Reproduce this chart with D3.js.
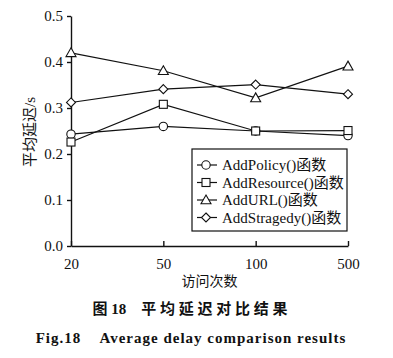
<!DOCTYPE html>
<html>
<head>
<meta charset="utf-8">
<script src="https://cdn.jsdelivr.net/npm/d3@7"></script>
<style>
  html, body { margin: 0; padding: 0; background: #fff; }
  #chart { width: 393px; height: 358px; }
  text { fill: #111; }
</style>
</head>
<body>
<div id="chart"></div>
<script>
const WIDTH = 393, HEIGHT = 358;
const MARGIN = { left: 71, top: 16, right: 45, bottom: 112 };
const INNER_WIDTH = WIDTH - MARGIN.left - MARGIN.right;
const INNER_HEIGHT = HEIGHT - MARGIN.top - MARGIN.bottom;

const SERIF = "'Liberation Serif', 'Times New Roman', 'Noto Sans CJK SC', serif";

// data
const categories = ["20", "50", "100", "500"];
const yTicks = [0.0, 0.1, 0.2, 0.3, 0.4, 0.5];
const addPolicy = [0.243, 0.26, 0.25, 0.24];
const addResource = [0.226, 0.308, 0.25, 0.251];
const addURL = [0.42, 0.381, 0.322, 0.391];
const addStragedy = [0.312, 0.341, 0.351, 0.33];
const seriesNames = ["AddPolicy()函数", "AddResource()函数", "AddURL()函数", "AddStragedy()函数"];
const seriesShapes = ["circle", "square", "triangle", "diamond"];

const series = [addPolicy, addResource, addURL, addStragedy].map((vals, i) => ({
    name: seriesNames[i],
    shape: seriesShapes[i],
    values: vals.map((v, j) => ({ cat: categories[j], v }))
}));

const svg = d3.select("#chart")
    .append("svg")
    .attr("width", WIDTH)
    .attr("height", HEIGHT)
    .style("background", "#fff");

const g = svg.append("g")
    .attr("transform", `translate(${MARGIN.left},${MARGIN.top})`);

const x = d3.scalePoint().domain(categories).range([0, INNER_WIDTH]);
const y = d3.scaleLinear().domain([0, 0.5]).range([INNER_HEIGHT, 0]);

// axes
const xAxis = g.append("g")
    .attr("transform", `translate(0,${INNER_HEIGHT})`)
    .call(d3.axisBottom(x).tickSizeInner(-5).tickSizeOuter(0).tickPadding(12));
const yAxis = g.append("g")
    .call(d3.axisLeft(y).tickValues(yTicks).tickFormat(d3.format(".1f")).tickSizeInner(4).tickSizeOuter(0).tickPadding(4));

[xAxis, yAxis].forEach(a => {
    a.select(".domain").attr("stroke", "#111").attr("stroke-width", 1.4);
    a.selectAll(".tick line").attr("stroke", "#111").attr("stroke-width", 1.4);
    a.selectAll("text").attr("font-family", SERIF).attr("font-size", 15).attr("fill", "#222");
});

// symbols
function drawMarker(sel, shape) {
    if (shape === "circle") {
        sel.append("circle").attr("r", 4.2);
    } else if (shape === "square") {
        sel.append("rect").attr("x", -4).attr("y", -4).attr("width", 8).attr("height", 8);
    } else if (shape === "triangle") {
        sel.append("path").attr("d", "M0,-5 L5,3.8 L-5,3.8 Z");
    } else {
        sel.append("path").attr("d", "M0,-4.5 L4.5,0 L0,4.5 L-4.5,0 Z");
    }
    sel.selectAll("*").attr("fill", "#fff").attr("stroke", "#111").attr("stroke-width", 1.1);
}

const line = d3.line().x(d => x(d.cat)).y(d => y(d.v));

series.forEach(s => {
    g.append("path")
        .datum(s.values)
        .attr("fill", "none")
        .attr("stroke", "#111")
        .attr("stroke-width", 1.2)
        .attr("d", line);
});

series.forEach(s => {
    g.selectAll(null)
        .data(s.values)
        .join("g")
        .attr("transform", d => `translate(${x(d.cat)},${y(d.v)})`)
        .each(function () { drawMarker(d3.select(this), s.shape); });
});

// legend
const legend = svg.append("g").attr("transform", "translate(192,149)");
legend.append("rect")
    .attr("width", 155).attr("height", 82)
    .attr("fill", "#fff").attr("stroke", "#111").attr("stroke-width", 1.2);

series.forEach((s, i) => {
    const row = legend.append("g").attr("transform", `translate(0,${16 + i * 17.5})`);
    row.append("line").attr("x1", 5).attr("x2", 25).attr("stroke", "#111").attr("stroke-width", 1.2);
    const m = row.append("g").attr("transform", "translate(14,0)");
    drawMarker(m, s.shape);
    row.append("text")
        .attr("x", 30).attr("y", 5)
        .attr("font-family", SERIF).attr("font-size", 15)
        .text(s.name);
});

// axis labels
svg.append("text")
    .attr("transform", "translate(35,132) rotate(-90)")
    .attr("text-anchor", "middle")
    .attr("font-family", SERIF).attr("font-size", 15)
    .text("平均延迟/s");

svg.append("text")
    .attr("x", MARGIN.left + INNER_WIDTH / 2).attr("y", 286)
    .attr("text-anchor", "middle")
    .attr("font-family", SERIF).attr("font-size", 14)
    .text("访问次数");

// captions
svg.append("text")
    .attr("x", 190).attr("y", 314)
    .attr("text-anchor", "middle")
    .attr("font-family", SERIF).attr("font-size", 15).attr("font-weight", "bold")
    .style("white-space", "pre")
    .text("图 18    平 均 延 迟 对 比 结 果");

svg.append("text")
    .attr("x", 191).attr("y", 343)
    .attr("text-anchor", "middle")
    .attr("font-family", SERIF).attr("font-size", 15).attr("font-weight", "bold")
    .style("white-space", "pre")
    .style("letter-spacing", "1px")
    .text("Fig.18    Average delay comparison results");
</script>
</body>
</html>
